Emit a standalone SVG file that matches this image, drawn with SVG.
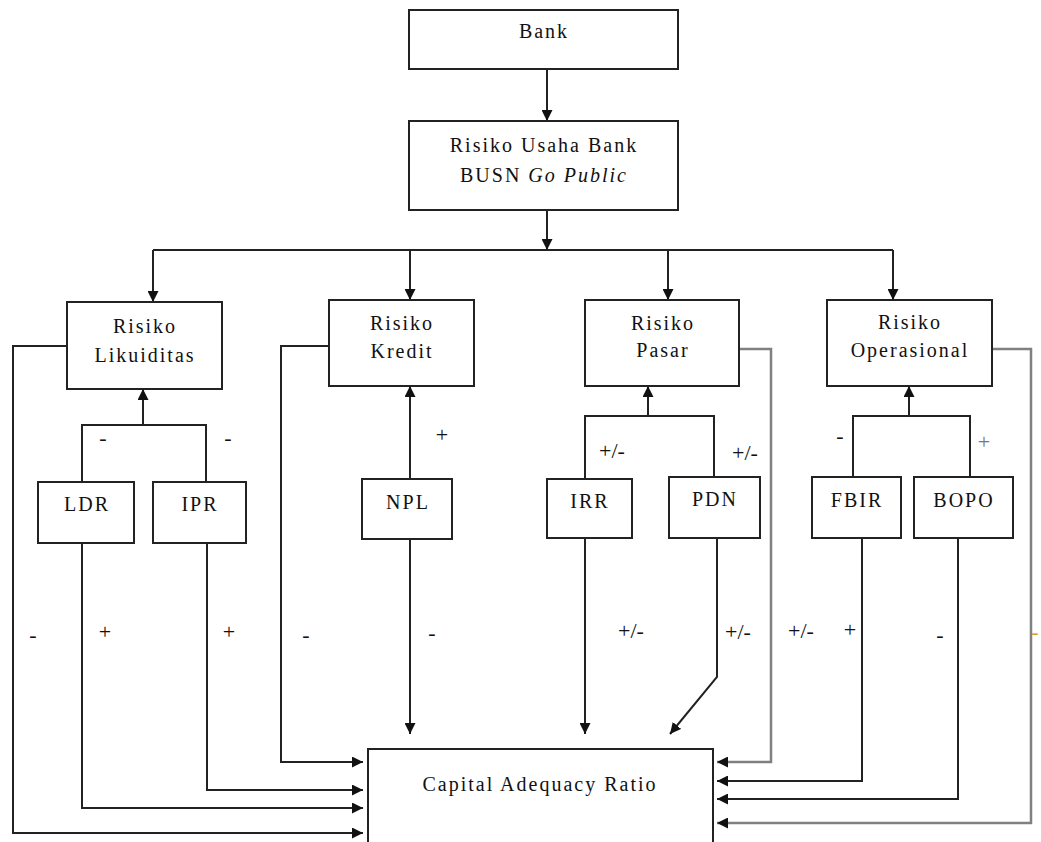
<svg xmlns="http://www.w3.org/2000/svg" width="1041" height="842" viewBox="0 0 1041 842" font-family="'Liberation Serif', 'Times New Roman', serif">
<defs>
<marker id="ah" markerUnits="userSpaceOnUse" markerWidth="11" markerHeight="11" refX="11" refY="5.5" orient="auto"><path d="M0,0 L11,5.5 L0,11 z" fill="#111"/></marker>
<style>
.box{fill:#fff;stroke:#222;stroke-width:2}
.t{font-family:'Liberation Serif','Times New Roman',serif;font-size:20px;fill:#111;text-anchor:middle;letter-spacing:2px}
.s{font-family:'Liberation Serif','Times New Roman',serif;font-size:22px;fill:#111;text-anchor:middle}
.c{fill:none;stroke:#222;stroke-width:2}
.g{fill:none;stroke:#808080;stroke-width:2.5}
</style>
</defs>
<rect width="1041" height="842" fill="#fff"/>
<g id="connectors">
<path class="c" d="M547,69 V121" marker-end="url(#ah)"/>
<path class="c" d="M547,210 V250" marker-end="url(#ah)"/>
<path class="c" d="M153,250 H893"/>
<path class="c" d="M153,250 V302" marker-end="url(#ah)"/>
<path class="c" d="M410,250 V300" marker-end="url(#ah)"/>
<path class="c" d="M668,250 V300" marker-end="url(#ah)"/>
<path class="c" d="M893,250 V300" marker-end="url(#ah)"/>
<path class="c" d="M82,482 V425 H206 V482"/>
<path class="c" d="M143,425 V389" marker-end="url(#ah)"/>
<path class="c" d="M410,479 V386" marker-end="url(#ah)"/>
<path class="c" d="M585,479 V416 H714 V477"/>
<path class="c" d="M648,416 V386" marker-end="url(#ah)"/>
<path class="c" d="M853,477 V416 H970 V477"/>
<path class="c" d="M909,416 V386" marker-end="url(#ah)"/>
<path class="c" d="M67,346 H13 V833 H363" marker-end="url(#ah)"/>
<path class="c" d="M82,543 V808 H363" marker-end="url(#ah)"/>
<path class="c" d="M207,543 V790 H363" marker-end="url(#ah)"/>
<path class="c" d="M329,346 H281 V762 H363" marker-end="url(#ah)"/>
<path class="c" d="M410,539 V734" marker-end="url(#ah)"/>
<path class="c" d="M585,538 V734" marker-end="url(#ah)"/>
<path class="c" d="M717,538 V677 L670,734" marker-end="url(#ah)"/>
<path class="g" d="M739,349 H771 V762 H717" marker-end="url(#ah)"/>
<path class="c" d="M862,538 V781 H717" marker-end="url(#ah)"/>
<path class="c" d="M958,538 V799 H717" marker-end="url(#ah)"/>
<path class="g" d="M992,349 H1031 V823 H717" marker-end="url(#ah)"/>
</g>
<g id="bank"><rect class="box" x="409" y="10" width="269" height="59"/><text class="t" x="544" y="38">Bank</text></g>
<g id="risiko-usaha"><rect class="box" x="409" y="121" width="269" height="89"/><text class="t" x="544" y="152">Risiko Usaha Bank</text><text class="t" x="544" y="182">BUSN <tspan font-style="italic">Go Public</tspan></text></g>
<g id="likuiditas"><rect class="box" x="67" y="302" width="155" height="87"/><text class="t" x="145" y="333">Risiko</text><text class="t" x="145" y="362">Likuiditas</text></g>
<g id="kredit"><rect class="box" x="329" y="300" width="145" height="86"/><text class="t" x="402" y="330">Risiko</text><text class="t" x="402" y="358">Kredit</text></g>
<g id="pasar"><rect class="box" x="585" y="300" width="154" height="86"/><text class="t" x="663" y="330">Risiko</text><text class="t" x="663" y="357">Pasar</text></g>
<g id="operasional"><rect class="box" x="827" y="300" width="165" height="86"/><text class="t" x="910" y="329">Risiko</text><text class="t" x="910" y="357">Operasional</text></g>
<g id="ldr"><rect class="box" x="38" y="482" width="96" height="61"/><text class="t" x="87" y="511">LDR</text></g>
<g id="ipr"><rect class="box" x="153" y="482" width="93" height="61"/><text class="t" x="200" y="511">IPR</text></g>
<g id="npl"><rect class="box" x="362" y="479" width="90" height="60"/><text class="t" x="408" y="509">NPL</text></g>
<g id="irr"><rect class="box" x="547" y="479" width="85" height="59"/><text class="t" x="590" y="508">IRR</text></g>
<g id="pdn"><rect class="box" x="669" y="477" width="91" height="61"/><text class="t" x="715" y="506">PDN</text></g>
<g id="fbir"><rect class="box" x="812" y="477" width="89" height="61"/><text class="t" x="857" y="507">FBIR</text></g>
<g id="bopo"><rect class="box" x="914" y="477" width="99" height="61"/><text class="t" x="964" y="507">BOPO</text></g>
<g id="car"><rect class="box" x="368" y="749" width="345" height="110"/><text class="t" x="540" y="791">Capital Adequacy Ratio</text></g>
<g id="labels">
<text class="s" x="103" y="445">-</text>
<text class="s" x="228" y="445">-</text>
<text class="s" x="442" y="442">+</text>
<text class="s" x="612" y="458">+/-</text>
<text class="s" x="745" y="460">+/-</text>
<text class="s" x="840" y="443">-</text>
<text class="s" x="984" y="449" style="fill:#777">+</text>
<text class="s" x="33" y="642">-</text>
<text class="s" x="105" y="639">+</text>
<text class="s" x="229" y="639">+</text>
<text class="s" x="306" y="642">-</text>
<text class="s" x="432" y="640">-</text>
<text class="s" x="631" y="638">+/-</text>
<text class="s" x="738" y="639">+/-</text>
<text class="s" x="801" y="638">+/-</text>
<text class="s" x="850" y="637">+</text>
<text class="s" x="940" y="642">-</text>
<text class="s" x="1035" y="639" style="fill:#d9a030">-</text>
</g>
</svg>
